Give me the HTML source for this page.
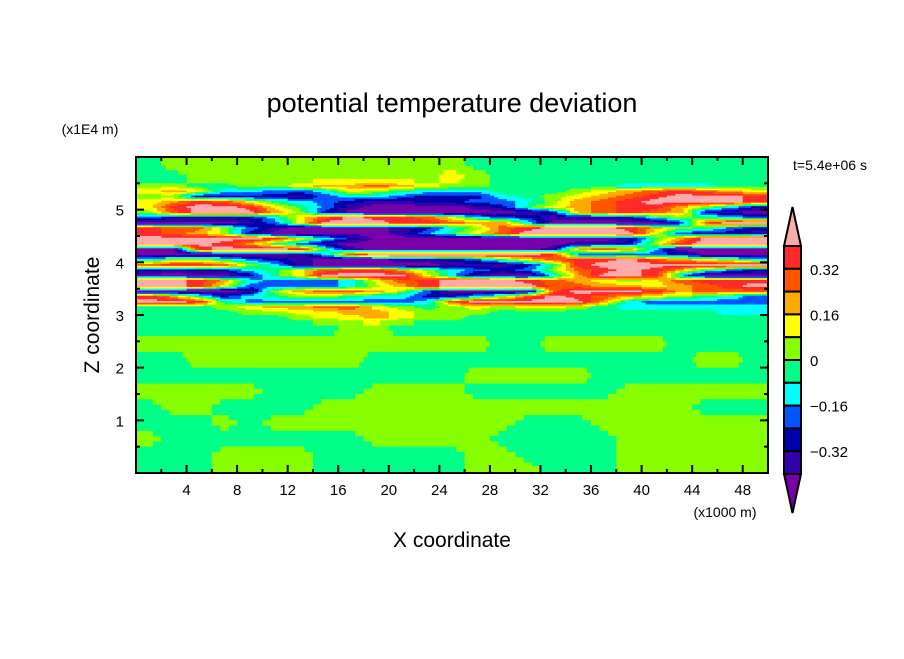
<!DOCTYPE html>
<html><head><meta charset="utf-8"><style>
body{margin:0;background:#fff}
svg text{font-family:"Liberation Sans",sans-serif;fill:#000}
</style></head><body>
<svg id="chart" width="904" height="654" xmlns="http://www.w3.org/2000/svg">
<rect width="904" height="654" fill="#fff"/>
<g id="field"></g>
<g id="axes"></g>
<g id="cbar"></g>
<text x="452" y="112" font-size="27" text-anchor="middle">potential temperature deviation</text>
<text x="90" y="134" font-size="14" text-anchor="middle">(x1E4 m)</text>
<text x="725" y="517" font-size="14" text-anchor="middle">(x1000 m)</text>
<text x="452" y="547" font-size="21" text-anchor="middle">X coordinate</text>
<text x="0" y="0" font-size="21" text-anchor="middle" transform="translate(99,315) rotate(-90)">Z coordinate</text>
<text x="830" y="170" font-size="14" text-anchor="middle">t=5.4e+06 s</text>
</svg>
<script>
// data
const levelColors=["#7700aa","#3300aa","#0000aa","#0055ff","#00ffff","#00ff88","#88ff00","#ffff00","#ffaa00","#ff5500","#ff2a2a","#ffaaaa"];
const cbarLabels=["0.32","0.16","0","-0.16","-0.32"];
const cbarLabelValues=[0.32,0.16,0,-0.16,-0.32];
const xTicks=[4,8,12,16,20,24,28,32,36,40,44,48];
const yTicks=[1,2,3,4,5];
const colWidth=2;
const rowTops=[6.0,5.75,5.5,5.4,5.3,5.2,5.1,5.0,4.9,4.8,4.7,4.6,4.5,4.4,4.3,4.2,4.1,4.0,3.9,3.8,3.7,3.6,3.5,3.4,3.3,3.2,3.1,3.0,2.9,2.6,2.3,2.0,1.7,1.4,1.1,0.8,0.5,0.2];
const rows=[
"56666 66666 66655 55555 55555",
"55666 66666 66765 55555 55555",
"66556 67889 87665 55554 44455",
"78744 33476 54445 55678 9a987",
"66222 21344 32224 56789 abbba",
"78a97 54321 12233 4689a bbbba",
"7abba 75310 00012 5789a a8642",
"69bbb 86200 00000 1289a 98210",
"32222 479ba a9743 21112 46543",
"00001 37bbb aa988 40000 029bb",
"a9963 10000 12469 abbba 86532",
"a9862 00000 13579 bbbbb 73221",
"bbbbb a7420 00000 00001 58bbb",
"bbba8 53100 00000 00112 6abbb",
"00abb ba510 00000 01898 40000",
"00000 0149b bbbbb ba333 32000",
"46653 21000 11235 79aab 98764",
"9aa96 41000 00111 25abb bbbbb",
"21224 579aa 86432 369ab a8532",
"00002 57bbb b7410 048bb a4000",
"bba84 33347 9abbb a9876 79aaa",
"bba73 33346 8abbb b9988 789ab",
"00001 68998 63000 09bbb a8999",
"a8524 56654 42246 9ba98 76543",
"bba53 33333 349bb bbb84 33333",
"55567 88997 65676 77654 44444",
"55556 67788 76665 55555 55544",
"55555 56778 76655 55555 55555",
"55555 55566 55555 55555 55555",
"66666 66666 66665 56666 65555",
"55666 66665 55555 55555 55665",
"55555 55555 55566 66655 55555",
"66666 55556 66655 55556 66666",
"56655 55666 66666 66666 66555",
"55565 66666 66666 55566 66666",
"65555 55556 66665 55556 66666",
"55566 66555 55566 55556 66666",
"55566 66555 55566 65556 66666"
];
const NS="http://www.w3.org/2000/svg";
const L=136,R=768,T=157,B=473;
const xs=v=>L+(v/50)*(R-L);
const ys=v=>B-(v/6)*(B-T);
function mk(tag,attrs,parent){const e=document.createElementNS(NS,tag);for(const k in attrs)e.setAttribute(k,attrs[k]);parent.appendChild(e);return e;}
const grid=rows.map(r=>r.replace(/ /g,'').split('').map(ch=>parseInt(ch,16)));
const nR=grid.length,nC=grid[0].length;
function val(ri,ci){ // ri, ci fractional in cell-center index space
  ri=Math.max(0,Math.min(nR-1,ri));ci=Math.max(0,Math.min(nC-1,ci));
  const r0=Math.floor(ri),c0=Math.floor(ci),r1=Math.min(nR-1,r0+1),c1=Math.min(nC-1,c0+1);
  const fr=ri-r0,fc=ci-c0;
  const a=grid[r0][c0]*(1-fc)+grid[r0][c1]*fc;
  const b=grid[r1][c0]*(1-fc)+grid[r1][c1]*fc;
  return a*(1-fr)+b*fr;
}
const field=document.getElementById('field');
const SX=6,SY=3;
for(let ri=0;ri<nR;ri++){
  const zt=rowTops[ri], zb=ri+1<rowTops.length?rowTops[ri+1]:0;
  for(let sy=0;sy<SY;sy++){
    const fy=(sy+0.5)/SY;
    const z0=zt-(zt-zb)*sy/SY, z1=zt-(zt-zb)*(sy+1)/SY;
    let runStart=0,runLv=null;
    const total=nC*SX;
    for(let k=0;k<=total;k++){
      let lv=null;
      if(k<total){
        const ci=k/SX+0.5/SX-0.5;
        lv=Math.round(val(ri+fy-0.5,ci));
      }
      if(lv!==runLv){
        if(runLv!==null){
          const x0=xs(runStart/SX*colWidth),x1=xs(k/SX*colWidth);
          const r=mk('rect',{x:x0,y:ys(z0),width:x1-x0+0.5,height:ys(z1)-ys(z0)+0.5,fill:levelColors[runLv]},field);
          
          
        }
        runStart=k;runLv=lv;
      }
    }
  }
}
const axes=document.getElementById('axes');
mk('rect',{x:L,y:T,width:R-L,height:B-T,fill:'none',stroke:'#000','stroke-width':2},axes);
for(let v=2;v<50;v+=2){
  const big=v%4===0, len=big?8:4, x=xs(v);
  mk('line',{x1:x,y1:B,x2:x,y2:B-len,stroke:'#000','stroke-width':2},axes);
  mk('line',{x1:x,y1:T,x2:x,y2:T+len,stroke:'#000','stroke-width':2},axes);
}
xTicks.forEach(v=>{
  const t=mk('text',{x:xs(v),y:B+22,'font-size':15,'text-anchor':'middle'},axes);t.textContent=v;
  
  
});
for(let v=0.5;v<6;v+=0.5){
  const big=Math.abs(v-Math.round(v))<1e-6,len=big?8:4,y=ys(v);
  mk('line',{x1:L,y1:y,x2:L+len,y2:y,stroke:'#000','stroke-width':2},axes);
  mk('line',{x1:R,y1:y,x2:R-len,y2:y,stroke:'#000','stroke-width':2},axes);
}
yTicks.forEach(v=>{
  const t=mk('text',{x:L-12,y:ys(v)+6,'font-size':15,'text-anchor':'end'},axes);t.textContent=v;
  
  
});
// colorbar
const cb=document.getElementById('cbar');
const cx0=784,cx1=801,ctop=246,cbot=474,nb=10,bh=(cbot-ctop)/nb;
const cv=v=>ctop+(0.40-v)/0.08*bh;
mk('polygon',{points:`${cx0},${ctop} ${cx1},${ctop} ${(cx0+cx1)/2},207`,fill:levelColors[11],stroke:'#000','stroke-width':2},cb);
mk('polygon',{points:`${cx0},${cbot} ${cx1},${cbot} ${(cx0+cx1)/2},513`,fill:levelColors[0],stroke:'#000','stroke-width':2},cb);
for(let i=0;i<nb;i++){
  const r=mk('rect',{x:cx0,y:ctop+i*bh,width:cx1-cx0,height:bh,fill:levelColors[10-i],stroke:'#000','stroke-width':2},cb);
  
  
}
cbarLabels.forEach((s,i)=>{
  const t=mk('text',{x:810,y:cv(cbarLabelValues[i])+6,'font-size':15},cb);t.textContent=s.replace('-','\u2212');
  
  
});
</script>
</body></html>
